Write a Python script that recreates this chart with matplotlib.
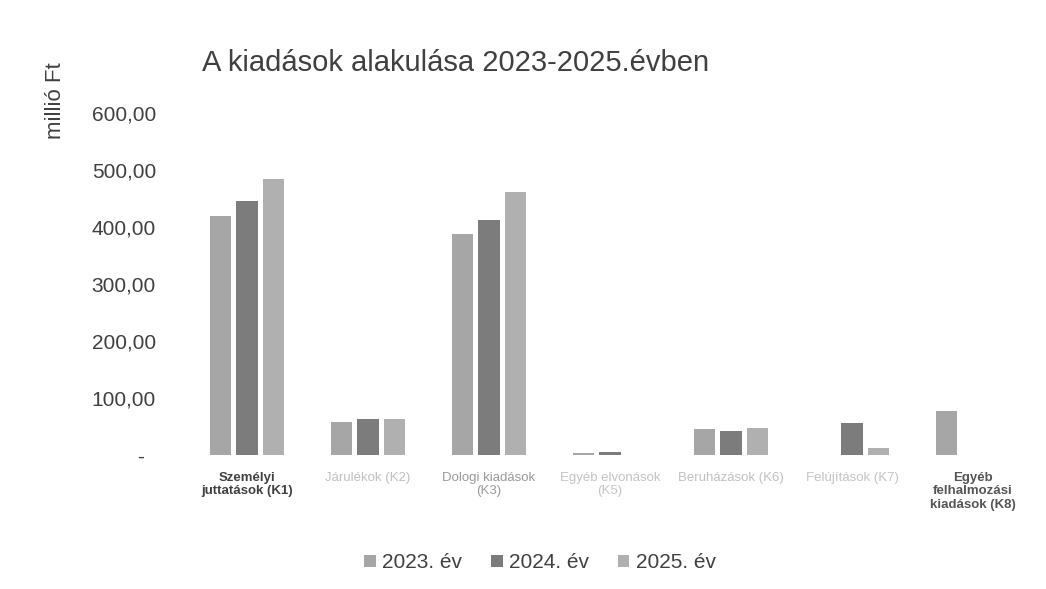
import matplotlib
matplotlib.use("Agg")
from matplotlib import pyplot as plt
from matplotlib.ticker import FuncFormatter
import numpy as np

categories = [
    "Személyi\njuttatások (K1)",
    "Járulékok (K2)",
    "Dologi kiadások\n(K3)",
    "Egyéb elvonások\n(K5)",
    "Beruházások (K6)",
    "Felújítások (K7)",
    "Egyéb\nfelhalmozási\nkiadások (K8)",
]
series_names = ["2023. év", "2024. év", "2025. év"]
values_2023 = [420, 58, 388, 3, 46, 0, 77]
values_2024 = [445, 63, 412, 5, 42, 56, 0]
values_2025 = [485, 63, 462, 0, 47, 12, 0]
y_ticks = [0, 100, 200, 300, 400, 500, 600]

colors = ["#a6a6a6", "#7c7c7c", "#b0b0b0"]
label_colors = ["#404040", "#c0c0c0", "#9a9a9a", "#c4c4c4", "#c0c0c0", "#c4c4c4", "#555555"]
label_weights = ["bold", "normal", "normal", "normal", "normal", "normal", "bold"]

plt.rcParams["font.family"] = ["Liberation Sans", "DejaVu Sans"]

fig = plt.figure(figsize=(10.46, 5.89), dpi=100)
ax = fig.add_axes([0.1783, 0.2275, 0.8098, 0.5806])

x = np.arange(len(categories))
width = 0.175
step = 0.222
for i, (vals, name) in enumerate(zip([values_2023, values_2024, values_2025], series_names)):
    ax.bar(x + (i - 1) * step, vals, width, color=colors[i], label=name)

ax.set_xlim(-0.5, len(categories) - 0.5)
ax.set_ylim(0, 600)
ax.set_yticks(y_ticks)


def fmt(v, pos):
    # accounting style: zero shown as a dash
    if v == 0:
        return "-  "
    return f"{v:.2f}".replace(".", ",")


ax.yaxis.set_major_formatter(FuncFormatter(fmt))
ax.tick_params(axis="y", length=0, pad=22, labelsize=15, labelcolor="#404040")
ax.tick_params(axis="x", length=0, pad=12)
ax.set_xticks(x)
ax.set_xticklabels(categories, fontsize=9.5)
for lbl, c, w in zip(ax.get_xticklabels(), label_colors, label_weights):
    lbl.set_color(c)
    lbl.set_fontweight(w)
for s in ax.spines.values():
    s.set_visible(False)

fig.text(0.436, 0.893, "A kiadások alakulása 2023-2025.évben", fontsize=21,
         color="#404040", ha="center", va="center")
fig.text(0.053, 0.83, "millió Ft", rotation=90, fontsize=16, color="#404040",
         ha="center", va="center")

ax.legend(loc="center", bbox_to_anchor=(540 / 1046, 1 - 563 / 589),
          bbox_transform=fig.transFigure, ncol=3, frameon=False, fontsize=15,
          handlelength=0.55, handleheight=0.55, handletextpad=0.3, columnspacing=1.4,
          labelcolor="#404040")

fig.savefig("out.png", dpi=100)
